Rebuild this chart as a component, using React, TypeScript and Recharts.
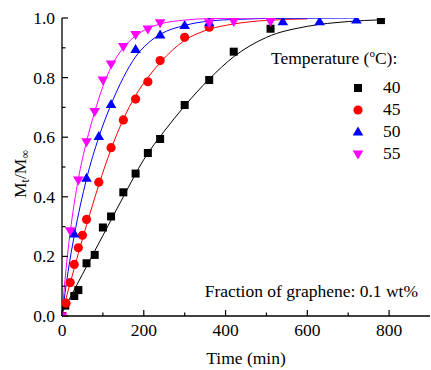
import { ComposedChart, Line, Scatter, XAxis, YAxis, Legend } from 'recharts';

const FONT = '"Liberation Serif", "Times New Roman", serif';

// measured points (time in min, Mt/M∞)
const TIME_40 = [0, 8, 30, 40, 60, 80, 100, 120, 150, 180, 210, 240, 300, 360, 420, 510, 780];
const VALUE_40 = [0, 0.035, 0.067, 0.087, 0.177, 0.205, 0.297, 0.334, 0.415, 0.478, 0.547, 0.594, 0.708, 0.792, 0.887, 0.964, 0.993];

const TIME_45 = [0, 10, 20, 30, 40, 50, 60, 90, 120, 150, 180, 210, 240, 300, 360];
const VALUE_45 = [0, 0.043, 0.112, 0.173, 0.229, 0.271, 0.324, 0.449, 0.565, 0.658, 0.728, 0.786, 0.857, 0.935, 0.969];

const TIME_50 = [0, 30, 60, 90, 120, 180, 240, 300, 360, 540, 630, 720];
const VALUE_50 = [0, 0.275, 0.462, 0.602, 0.71, 0.894, 0.943, 0.975, 0.984, 0.987, 0.987, 0.993];

const TIME_55 = [0, 20, 40, 60, 80, 100, 120, 150, 180, 210, 240, 360, 420, 510];
const VALUE_55 = [0, 0.286, 0.456, 0.585, 0.686, 0.792, 0.846, 0.904, 0.945, 0.963, 0.984, 0.984, 0.988, 0.988];

// fitted curves
const FIT_T_40 = [0, 50, 100, 150, 200, 250, 300, 360, 420, 500, 600, 700, 780];
const FIT_V_40 = [0.01, 0.14, 0.27, 0.4, 0.525, 0.62, 0.705, 0.795, 0.87, 0.935, 0.972, 0.988, 0.994];

const FIT_T_45 = [0, 20, 40, 60, 90, 120, 150, 180, 210, 240, 300, 360, 420, 500, 600];
const FIT_V_45 = [0.01, 0.11, 0.21, 0.305, 0.44, 0.56, 0.66, 0.74, 0.8, 0.85, 0.925, 0.962, 0.98, 0.992, 0.997];

const FIT_T_50 = [0, 15, 30, 60, 90, 120, 150, 180, 210, 240, 300, 360, 420, 540, 720];
const FIT_V_50 = [0, 0.15, 0.27, 0.46, 0.6, 0.71, 0.8, 0.87, 0.915, 0.945, 0.975, 0.99, 0.995, 0.999, 1.0];

const FIT_T_55 = [0, 10, 20, 40, 60, 80, 100, 120, 150, 180, 210, 240, 300, 360, 510];
const FIT_V_55 = [0, 0.16, 0.28, 0.46, 0.585, 0.685, 0.77, 0.835, 0.9, 0.94, 0.965, 0.98, 0.993, 0.998, 1.0];

const X_TICKS = [0, 100, 200, 300, 400, 500, 600, 700, 800];
const Y_TICKS = [0, 0.1, 0.2, 0.3, 0.4, 0.5, 0.6, 0.7, 0.8, 0.9, 1.0];

const FS = 17.5;

const zip = (t: number[], v: number[]) => t.map((x, i) => ({ t: x, v: v[i] }));

const SERIES = [
  { name: '40', color: '#000000', kind: 'square', points: zip(TIME_40, VALUE_40), fit: zip(FIT_T_40, FIT_V_40) },
  { name: '45', color: '#ff0000', kind: 'circle', points: zip(TIME_45, VALUE_45), fit: zip(FIT_T_45, FIT_V_45) },
  { name: '50', color: '#0000ff', kind: 'up', points: zip(TIME_50, VALUE_50), fit: zip(FIT_T_50, FIT_V_50) },
  { name: '55', color: '#ff00ff', kind: 'down', points: zip(TIME_55, VALUE_55), fit: zip(FIT_T_55, FIT_V_55) },
];

function Marker({ kind, cx, cy, color }: any) {
  if (kind === 'square') return <rect x={cx - 4} y={cy - 4} width={8} height={8} fill={color} />;
  if (kind === 'circle') return <circle cx={cx} cy={cy} r={4.6} fill={color} />;
  if (kind === 'up')
    return <polygon points={`${cx},${cy - 5.5} ${cx + 5.3},${cy + 3.5} ${cx - 5.3},${cy + 3.5}`} fill={color} />;
  return <polygon points={`${cx},${cy + 5.5} ${cx + 5.3},${cy - 3.5} ${cx - 5.3},${cy - 3.5}`} fill={color} />;
}

function Tick(props: any) {
  const { x, y, payload, side } = props;
  const v = payload.value;
  const horiz = side === 'bottom' || side === 'top';
  const major = horiz ? v % 200 === 0 : Math.round(v * 10) % 2 === 0;
  const len = major ? 6 : 3.5;
  const txt = { fontFamily: FONT, fontSize: FS, fill: '#000' };
  if (side === 'bottom')
    return (
      <g>
        <line x1={x} y1={y} x2={x} y2={y - len} stroke="#000" strokeWidth={1.2} />
        {major && <text x={x} y={y + 20} textAnchor="middle" {...txt}>{v}</text>}
      </g>
    );
  if (side === 'top') return <line x1={x} y1={y} x2={x} y2={y + len} stroke="#000" strokeWidth={1.2} />;
  if (side === 'left')
    return (
      <g>
        <line x1={x} y1={y} x2={x + len} y2={y} stroke="#000" strokeWidth={1.2} />
        {major && <text x={x - 7} y={y + 6} textAnchor="end" {...txt}>{v.toFixed(1)}</text>}
      </g>
    );
  return <line x1={x} y1={y} x2={x - len} y2={y} stroke="#000" strokeWidth={1.2} />;
}

function YTitle() {
  return (
    <text
      x={0}
      y={0}
      transform="translate(26 174) rotate(-90)"
      textAnchor="middle"
      fontFamily={FONT}
      fontSize={FS}
      fill="#000"
    >
      M<tspan fontSize={12} dy={3}>t</tspan>
      <tspan dy={-3}>/M</tspan>
      <tspan fontSize={12} dy={3}>∞</tspan>
    </text>
  );
}

function LegendBox(props: any) {
  const payload = (props.payload || []).filter((p: any) => p.type !== 'none');
  return (
    <div style={{ position: 'relative', width: 0, height: 0, fontFamily: FONT, fontSize: FS, lineHeight: 1 }}>
      <div style={{ position: 'absolute', left: 271, top: 50, whiteSpace: 'nowrap' }}>
        Temperature (<span style={{ fontSize: 11, position: 'relative', top: -7 }}>o</span>C):
      </div>
      {payload.map((p: any, i: number) => {
        const s = SERIES.find((d) => d.name === p.value) || SERIES[i];
        const base = 93 + i * 22;
        return (
          <div key={s.name}>
            <svg width={14} height={14} style={{ position: 'absolute', left: 351, top: base - 5.5 - 7 }}>
              <Marker kind={s.kind} cx={7} cy={7} color={s.color} />
            </svg>
            <div style={{ position: 'absolute', left: 383, top: base - 14.5 }}>{s.name}</div>
          </div>
        );
      })}
    </div>
  );
}

const overlayText = {
  position: 'absolute' as const,
  fontFamily: FONT,
  fontSize: FS,
  lineHeight: 1,
  whiteSpace: 'nowrap' as const,
};

export default function App() {
  return (
    <div style={{ position: 'absolute', left: 0, top: 0, width: 431, height: 370 }}>
      <ComposedChart width={431} height={370} margin={{ top: 18, right: 1, bottom: 0, left: 0 }}>
        <XAxis
          xAxisId="x"
          dataKey="t"
          type="number"
          domain={[0, 900]}
          allowDataOverflow
          ticks={X_TICKS}
          interval={0}
          height={54}
          tickSize={0}
          tickMargin={0}
          tickLine={false}
          tick={<Tick side="bottom" />}
          axisLine={{ stroke: '#000', strokeWidth: 1.3 }}
        />
        <XAxis
          xAxisId="top"
          orientation="top"
          type="number"
          domain={[0, 900]}
          allowDataOverflow
          ticks={X_TICKS}
          interval={0}
          height={0}
          tickSize={0}
          tickMargin={0}
          tickLine={false}
          tick={<Tick side="top" />}
          axisLine={{ stroke: '#000', strokeWidth: 1.3 }}
        />
        <YAxis
          yAxisId="y"
          dataKey="v"
          type="number"
          domain={[0, 1]}
          allowDataOverflow
          ticks={Y_TICKS}
          interval={0}
          width={62}
          tickSize={0}
          tickMargin={0}
          tickLine={false}
          tick={<Tick side="left" />}
          axisLine={{ stroke: '#000', strokeWidth: 1.3 }}
          label={<YTitle />}
        />
        <YAxis
          yAxisId="right"
          orientation="right"
          type="number"
          domain={[0, 1]}
          allowDataOverflow
          ticks={Y_TICKS}
          interval={0}
          width={0}
          tickSize={0}
          tickMargin={0}
          tickLine={false}
          tick={<Tick side="right" />}
          axisLine={{ stroke: '#000', strokeWidth: 1.3 }}
        />
        {SERIES.map((s) => (
          <Line
            key={'fit' + s.name}
            xAxisId="x"
            yAxisId="y"
            data={s.fit}
            dataKey="v"
            type="monotone"
            stroke={s.color}
            strokeWidth={1}
            dot={false}
            activeDot={false}
            legendType="none"
            isAnimationActive={false}
          />
        ))}
        {SERIES.map((s) => (
          <Scatter
            key={'pts' + s.name}
            name={s.name}
            xAxisId="x"
            yAxisId="y"
            data={s.points}
            dataKey="v"
            fill={s.color}
            shape={(p: any) => <Marker kind={s.kind} cx={p.cx} cy={p.cy} color={s.color} />}
            isAnimationActive={false}
          />
        ))}
        <Legend
          layout="vertical"
          align="center"
          verticalAlign="middle"
          wrapperStyle={{ left: 0, top: 0, width: 0, height: 0 }}
          content={<LegendBox />}
        />
      </ComposedChart>
      <div style={{ ...overlayText, left: 62, width: 368, top: 350, textAlign: 'center' }}>Time (min)</div>
      <div style={{ ...overlayText, right: 13, top: 283 }}>Fraction of graphene: 0.1 wt%</div>
    </div>
  );
}
